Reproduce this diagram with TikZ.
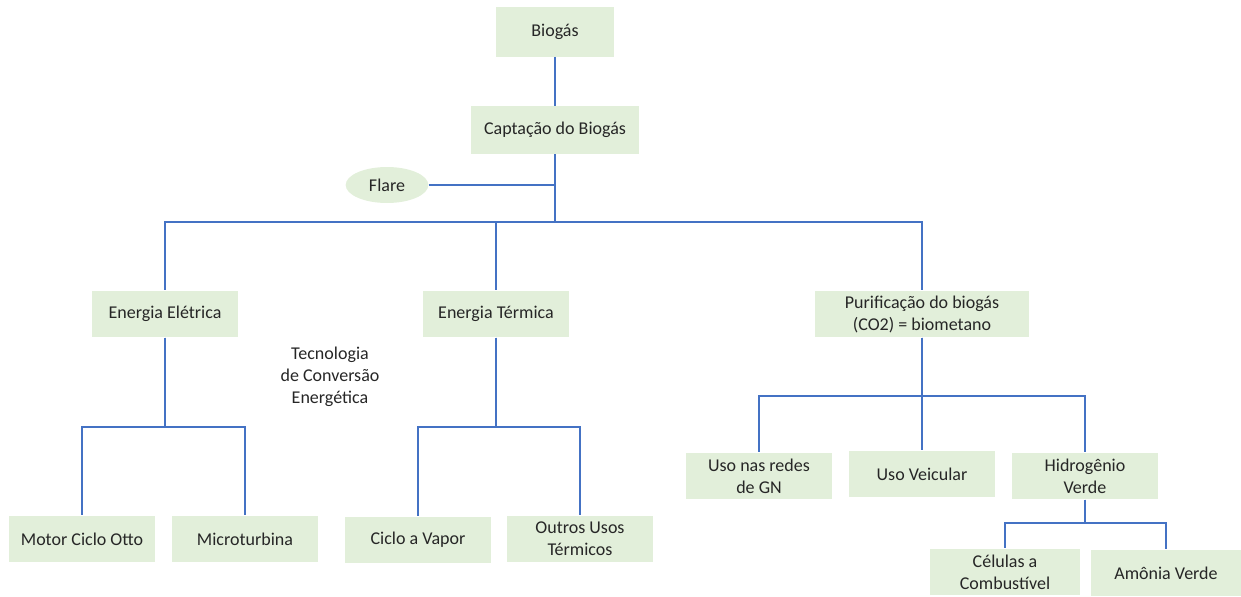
\documentclass[tikz,border=0pt]{standalone}
\usepackage{fontspec}
\setmainfont{Carlito}
\usetikzlibrary{shapes.geometric}
\definecolor{boxgreen}{RGB}{226,239,218}
\definecolor{linkblue}{RGB}{68,114,196}
\begin{document}
\begin{tikzpicture}[x=0.75pt, y=-0.75pt,
    font=\fontsize{13.5}{16.5}\selectfont,
    box/.style={fill=boxgreen, text=black!85, align=center,
      minimum width=110pt, minimum height=35pt, inner sep=2pt},
    link/.style={draw=linkblue, line width=1.4pt}]
  \useasboundingbox (0,0) rectangle (1241,596);
  \node[box, minimum width=88pt, minimum height=37pt] (biogas) at (555,32) {Biogás};
  \node[box, minimum width=126pt, minimum height=36pt] (capt) at (555,130) {Captação do Biogás};
  \node[box, ellipse, inner sep=0pt, minimum width=62pt, minimum height=27pt] (flare) at (387,185) {Flare};
  \node[box] (elet) at (165,314) {Energia Elétrica};
  \node[box] (term) at (496,314) {Energia Térmica};
  \node[box, minimum width=160pt] (puri) at (922,314) {Purificação do biogás\\(CO2) = biometano};
  \node[text=black!85, align=center] (tec) at (330,377) {Tecnologia\\de Conversão\\Energética};
  \node[box] (motor) at (82,539) {Motor Ciclo Otto};
  \node[box] (micro) at (245,539) {Microturbina};
  \node[box] (vapor) at (418,540) {Ciclo a Vapor};
  \node[box] (outros) at (580,539) {Outros Usos\\Térmicos};
  \node[box] (gn) at (759,476) {Uso nas redes\\de GN};
  \node[box] (veic) at (922,474) {Uso Veicular};
  \node[box] (hidro) at (1085,476) {Hidrogênio\\Verde};
  \node[box, minimum width=112pt] (cel) at (1005,572) {Células a\\Combustível};
  \node[box, minimum width=112pt] (amon) at (1166,573) {Amônia Verde};
  % ligações
  \draw[link] (biogas) -- (capt);
  \draw[link] (flare.east) -- (flare.east -| capt.south);
  \foreach \c in {elet, term, puri}
    \draw[link] (capt.south) -- ++(0,68) -| (\c.north);
  \foreach \c in {motor, micro}
    \draw[link] (elet.south) -- ++(0,89) -| (\c.north);
  \foreach \c in {vapor, outros}
    \draw[link] (term.south) -- ++(0,89) -| (\c.north);
  \foreach \c in {gn, veic, hidro}
    \draw[link] (puri.south) -- ++(0,58) -| (\c.north);
  \foreach \c in {cel, amon}
    \draw[link] (hidro.south) -- ++(0,23) -| (\c.north);
\end{tikzpicture}
\end{document}
